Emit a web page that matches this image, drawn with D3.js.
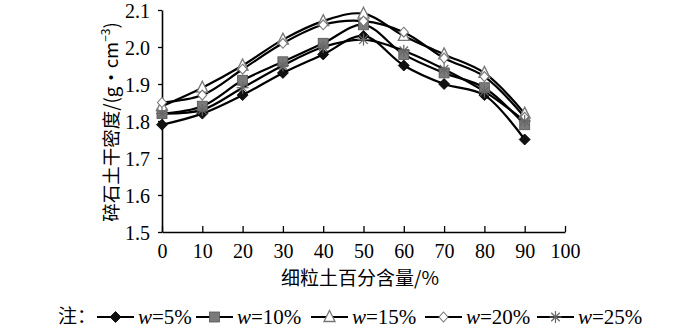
<!DOCTYPE html>
<html><head><meta charset="utf-8">
<script src="https://cdn.jsdelivr.net/npm/d3@7"></script>
<style>body{margin:0;background:#fff}svg{display:block}</style>
</head><body>
<svg id="c" width="700" height="330"></svg>
<script>
const xValues = [0,10,20,30,40,50,60,70,80,90];
const xTicks = [0,10,20,30,40,50,60,70,80,90,100];
const yTicks = [1.5,1.6,1.7,1.8,1.9,2.0,2.1];
const seriesNames = ["w=5%","w=10%","w=15%","w=20%","w=25%"];
const w5  = [1.79,1.82,1.87,1.93,1.98,2.03,1.95,1.90,1.87,1.75];
const w10 = [1.82,1.84,1.91,1.96,2.01,2.06,1.98,1.93,1.89,1.79];
const w15 = [1.84,1.89,1.95,2.02,2.07,2.09,2.03,1.98,1.93,1.82];
const w20 = [1.85,1.87,1.94,2.01,2.06,2.07,2.04,1.97,1.92,1.81];
const w25 = [1.82,1.83,1.89,1.95,2.00,2.02,1.99,1.94,1.88,1.80];
const seriesValues = [w5,w10,w15,w20,w25];
const markerTypes = ["diamondFill","square","triangle","diamondOpen","star"];

const svg = d3.select("#c");
const x = d3.scaleLinear().domain([0,100]).range([162,565]);
const y = d3.scaleLinear().domain([1.5,2.1]).range([232,10]);
const serif = "'Liberation Serif','Times New Roman',serif";
const cjk = "'Noto Sans CJK SC',sans-serif";

// axes
const xAxis = svg.append("g").attr("transform","translate(0,232)")
  .call(d3.axisBottom(x).tickValues(xTicks).tickSizeInner(-6).tickSizeOuter(0).tickPadding(12).tickFormat(d3.format("d")));
const yAxis = svg.append("g").attr("transform","translate(162,0)")
  .call(d3.axisLeft(y).tickValues(yTicks).tickSizeInner(4).tickSizeOuter(0).tickPadding(8).tickFormat(d3.format(".1f")));
[xAxis,yAxis].forEach(a=>{
  a.selectAll("path").attr("stroke","#000").attr("stroke-width",1.6);
  a.selectAll("line").attr("stroke","#000").attr("stroke-width",1.3);
  a.selectAll("text").attr("font-family",serif).attr("font-size",20).attr("fill","#000");
});
yAxis.selectAll("text").attr("dy","0.35em");

// axis titles
svg.append("text").attr("x",360).attr("y",285).attr("text-anchor","middle")
  .attr("font-family",cjk).attr("font-size",19).text("细粒土百分含量/%");
const yl = svg.append("text").attr("transform","translate(118,122) rotate(-90)")
  .attr("text-anchor","middle").attr("font-family",cjk).attr("font-size",18.5);
yl.append("tspan").text("碎石土干密度/(g・cm");
yl.append("tspan").attr("font-size",12).attr("dy",-8).text("−3");
yl.append("tspan").attr("dy",8).text(")");

// lines
const line = d3.line().x((d,i)=>x(xValues[i])).y(d=>y(d)).curve(d3.curveCatmullRom.alpha(0.5));
seriesValues.forEach(vals=>{
  svg.append("path").attr("d",line(vals)).attr("fill","none").attr("stroke","#000").attr("stroke-width",2.2);
});

function drawMarker(g, type, cx, cy){
  if(type==="diamondFill"){
    g.append("path").attr("d",`M${cx},${cy-5.5}L${cx+5.5},${cy}L${cx},${cy+5.5}L${cx-5.5},${cy}Z`).attr("fill","#111").attr("stroke","#000").attr("stroke-width",0.8);
  } else if(type==="square"){
    g.append("rect").attr("x",cx-5).attr("y",cy-5).attr("width",10).attr("height",10).attr("fill","#7a7a7a").attr("stroke","#555").attr("stroke-width",0.8);
  } else if(type==="triangle"){
    g.append("path").attr("d",`M${cx},${cy-6.5}L${cx+5.5},${cy+4.5}L${cx-5.5},${cy+4.5}Z`).attr("fill","#fff").attr("stroke","#777").attr("stroke-width",1.3);
  } else if(type==="diamondOpen"){
    g.append("path").attr("d",`M${cx},${cy-5}L${cx+4.5},${cy}L${cx},${cy+5}L${cx-4.5},${cy}Z`).attr("fill","#fff").attr("stroke","#777").attr("stroke-width",1.1);
  } else if(type==="star"){
    const r=6;
    [0,45,90,135].forEach(a=>{
      const t=a*Math.PI/180;
      g.append("line").attr("x1",cx-r*Math.cos(t)).attr("y1",cy-r*Math.sin(t)).attr("x2",cx+r*Math.cos(t)).attr("y2",cy+r*Math.sin(t)).attr("stroke","#666").attr("stroke-width",1.2);
    });
  }
}
const mg = svg.append("g");
seriesValues.forEach((vals,si)=>{
  vals.forEach((v,i)=>drawMarker(mg, markerTypes[si], x(xValues[i]), y(v)));
});

// legend
const lg = svg.append("g");
lg.append("text").attr("x",58).attr("y",323).attr("font-family",cjk).attr("font-size",19).text("注：");
const legX = [97,196,311,425,537];
seriesNames.forEach((n,i)=>{
  const lx = legX[i], ly = 317;
  lg.append("line").attr("x1",lx).attr("x2",lx+37).attr("y1",ly).attr("y2",ly).attr("stroke","#000").attr("stroke-width",2.2);
  drawMarker(lg, markerTypes[i], lx+18.5, ly);
  const t = lg.append("text").attr("x",lx+41).attr("y",ly+6.5).attr("font-family",serif).attr("font-size",21);
  t.append("tspan").attr("font-style","italic").text(n.split("=")[0]);
  t.append("tspan").text("="+n.split("=")[1]);
});
</script>
</body></html>
